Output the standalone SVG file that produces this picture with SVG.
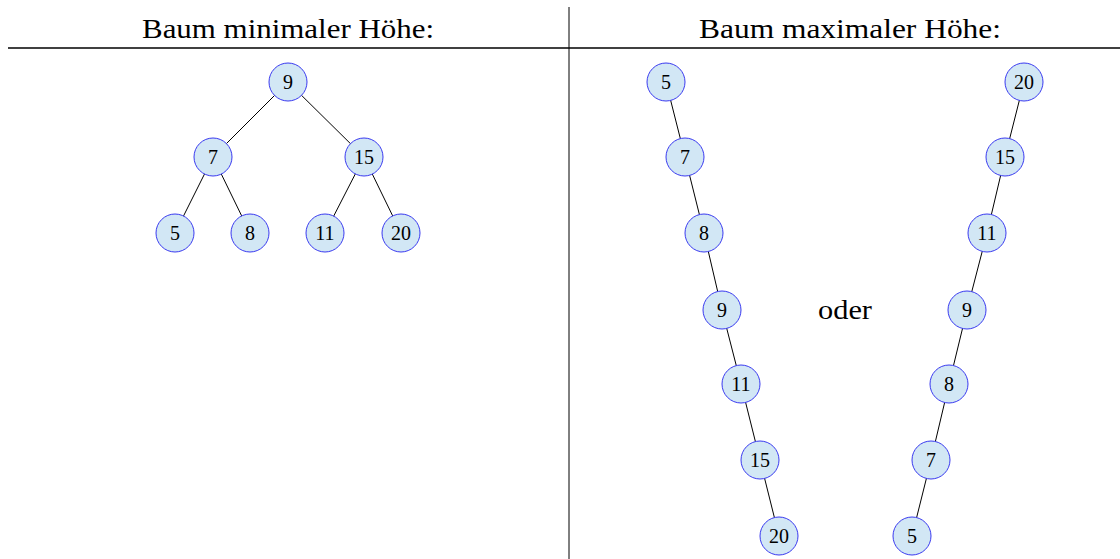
<svg xmlns="http://www.w3.org/2000/svg" width="1120" height="559" viewBox="0 0 1120 559">
<style>
.n circle{fill:#d2e7f5;stroke:#3a3af0;stroke-width:1}
.n text{font-family:"Liberation Serif","DejaVu Serif",serif;font-size:20px;text-anchor:middle;fill:#000}
.h{font-family:"Liberation Serif","DejaVu Serif",serif;font-size:27px;text-anchor:middle;fill:#000}
#edges line{stroke:#000;stroke-width:1}
</style>
<rect width="1120" height="559" fill="#fff"/>
<line x1="8" y1="48" x2="1120" y2="48" stroke="#000" stroke-width="1.3"/>
<line x1="569" y1="7" x2="569" y2="559" stroke="#000" stroke-width="1"/>
<text class="h" x="288" y="38" textLength="292" lengthAdjust="spacingAndGlyphs">Baum minimaler Höhe:</text>
<text class="h" x="850" y="38" textLength="302" lengthAdjust="spacingAndGlyphs">Baum maximaler Höhe:</text>
<text class="h" x="845" y="319" textLength="54" lengthAdjust="spacingAndGlyphs">oder</text>
<g id="edges">
<line x1="288" y1="82" x2="213" y2="157"/>
<line x1="288" y1="82" x2="364" y2="157"/>
<line x1="213" y1="157" x2="175" y2="233"/>
<line x1="213" y1="157" x2="250" y2="233"/>
<line x1="364" y1="157" x2="325" y2="233"/>
<line x1="364" y1="157" x2="401" y2="233"/>
<line x1="666" y1="82" x2="685" y2="157"/>
<line x1="685" y1="157" x2="704" y2="233"/>
<line x1="704" y1="233" x2="722" y2="310"/>
<line x1="722" y1="310" x2="741" y2="384"/>
<line x1="741" y1="384" x2="760" y2="460"/>
<line x1="760" y1="460" x2="779" y2="536"/>
<line x1="1024" y1="82" x2="1005" y2="157"/>
<line x1="1005" y1="157" x2="987" y2="233"/>
<line x1="987" y1="233" x2="967" y2="310"/>
<line x1="967" y1="310" x2="949" y2="384"/>
<line x1="949" y1="384" x2="931" y2="460"/>
<line x1="931" y1="460" x2="912" y2="536"/>
</g>
<g id="a9" class="n"><circle cx="288" cy="82" r="19"/><text x="288" y="89">9</text></g>
<g id="a7" class="n"><circle cx="213" cy="157" r="19"/><text x="213" y="164">7</text></g>
<g id="a15" class="n"><circle cx="364" cy="157" r="19"/><text x="364" y="164">15</text></g>
<g id="a5" class="n"><circle cx="175" cy="233" r="19"/><text x="175" y="240">5</text></g>
<g id="a8" class="n"><circle cx="250" cy="233" r="19"/><text x="250" y="240">8</text></g>
<g id="a11" class="n"><circle cx="325" cy="233" r="19"/><text x="325" y="240">11</text></g>
<g id="a20" class="n"><circle cx="401" cy="233" r="19"/><text x="401" y="240">20</text></g>
<g id="b5" class="n"><circle cx="666" cy="82" r="19"/><text x="666" y="89">5</text></g>
<g id="b7" class="n"><circle cx="685" cy="157" r="19"/><text x="685" y="164">7</text></g>
<g id="b8" class="n"><circle cx="704" cy="233" r="19"/><text x="704" y="240">8</text></g>
<g id="b9" class="n"><circle cx="722" cy="310" r="19"/><text x="722" y="317">9</text></g>
<g id="b11" class="n"><circle cx="741" cy="384" r="19"/><text x="741" y="391">11</text></g>
<g id="b15" class="n"><circle cx="760" cy="460" r="19"/><text x="760" y="467">15</text></g>
<g id="b20" class="n"><circle cx="779" cy="536" r="19"/><text x="779" y="543">20</text></g>
<g id="c20" class="n"><circle cx="1024" cy="82" r="19"/><text x="1024" y="89">20</text></g>
<g id="c15" class="n"><circle cx="1005" cy="157" r="19"/><text x="1005" y="164">15</text></g>
<g id="c11" class="n"><circle cx="987" cy="233" r="19"/><text x="987" y="240">11</text></g>
<g id="c9" class="n"><circle cx="967" cy="310" r="19"/><text x="967" y="317">9</text></g>
<g id="c8" class="n"><circle cx="949" cy="384" r="19"/><text x="949" y="391">8</text></g>
<g id="c7" class="n"><circle cx="931" cy="460" r="19"/><text x="931" y="467">7</text></g>
<g id="c5" class="n"><circle cx="912" cy="536" r="19"/><text x="912" y="543">5</text></g>
</svg>
